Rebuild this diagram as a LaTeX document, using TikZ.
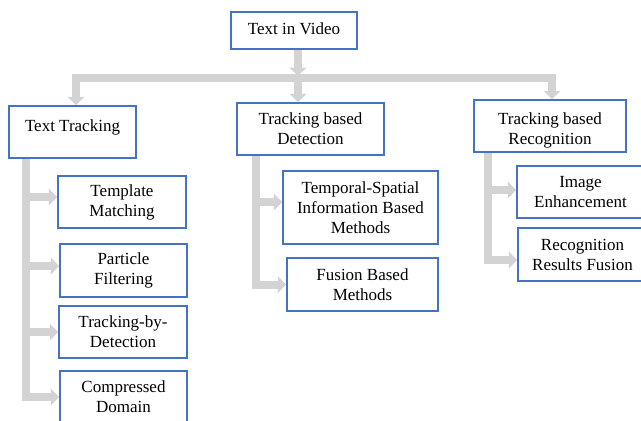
\documentclass[tikz,border=0pt]{standalone}
\usepackage{fontspec}
\setmainfont{Liberation Serif}
\usetikzlibrary{arrows.meta}
\definecolor{boxblue}{HTML}{4472C4}
\definecolor{arrowgray}{HTML}{D3D3D3}
% move a line of text up or down without changing the box it occupies
\newcommand\nudge[2]{\raisebox{#1}[\height][\depth]{#2}}
\tikzset{
  box/.style={draw=boxblue, line width=1.5pt, fill=white, inner sep=0pt,
    align=center, font=\fontsize{17pt}{20pt}\selectfont},
  arr/.style={draw=arrowgray, line width=8pt, line join=miter,
    -{Triangle[width=16.5pt,length=8.5pt]}}
}
\begin{document}
\begin{tikzpicture}[x=1pt, y=-1pt]
\path[use as bounding box, clip] (0,0) rectangle (641,421);
\fill[white] (0,0) rectangle (641,421);

% top level
\node[box, minimum width=126pt, minimum height=37pt] (root) at (294,30.5) {\nudge{1.5pt}{Text in Video}};

% second level
\node[box, minimum width=127pt, minimum height=52pt] (tt) at (72.5,132) {\nudge{5pt}{Text Tracking}};
\node[box, minimum width=147pt, minimum height=52pt] (td) at (310.5,129) {Tracking based\\Detection};
\node[box, minimum width=152pt, minimum height=52pt] (tr) at (550,126)
  {\nudge{-4.5pt}{Tracking based}\\\nudge{-4.5pt}{Recognition}};

% text tracking methods
\node[box, minimum width=128pt, minimum height=52pt] (tm)  at (122,202)   {Template\\Matching};
\node[box, minimum width=127pt, minimum height=53pt] (pf)  at (123.5,270.5) {Particle\\Filtering};
\node[box, minimum width=128pt, minimum height=52pt] (tbd) at (123,332)   {Tracking-by-\\Detection};
\node[box, minimum width=127pt, minimum height=52pt] (cd)  at (123.5,397) {Compressed\\Domain};

% tracking based detection methods
\node[box, minimum width=155pt, minimum height=73pt] (ts) at (360.5,207.5)
  {Temporal-Spatial\\Information Based\\Methods};
\node[box, minimum width=151pt, minimum height=53pt] (fb) at (362.5,284.5) {Fusion Based\\Methods};

% tracking based recognition methods
\node[box, minimum width=127pt, minimum height=52pt] (ie) at (580.5,192)   {Image\\Enhancement};
\node[box, minimum width=129pt, minimum height=53pt] (rf) at (582.5,254.5) {Recognition\\Results Fusion};

% distribution bar below the root
\coordinate (bar) at (298,77.5);
\draw[arr] (root.south -| bar) -- ([yshift=1.5pt]bar);
\draw[arr] (bar) -| ([xshift=3.5pt]tt.north);
\draw[arr] (bar) -- (td.north -| bar);
\draw[arr] (bar) -| ([xshift=2pt]tr.north);

% branches of Text Tracking
\draw[arr] ([xshift=-46.5pt]tt.south) |- ([yshift=5pt]tm.west);
\draw[arr] ([xshift=-46.5pt]tt.south) |- ([yshift=4.5pt]pf.west);
\draw[arr] ([xshift=-46.5pt]tt.south) |- (tbd.west);
\draw[arr] ([xshift=-46.5pt]tt.south) |- (cd.west);

% branches of Tracking based Detection
\draw[arr] ([xshift=-55pt]td.south) |- ([yshift=5.5pt]ts.west);
\draw[arr] ([xshift=-55pt]td.south) |- (fb.west);

% branches of Tracking based Recognition
\draw[arr] ([xshift=-62pt]tr.south) |- ([yshift=2pt]ie.west);
\draw[arr] ([xshift=-62pt]tr.south) |- ([yshift=-5.5pt]rf.west);
\end{tikzpicture}
\end{document}
